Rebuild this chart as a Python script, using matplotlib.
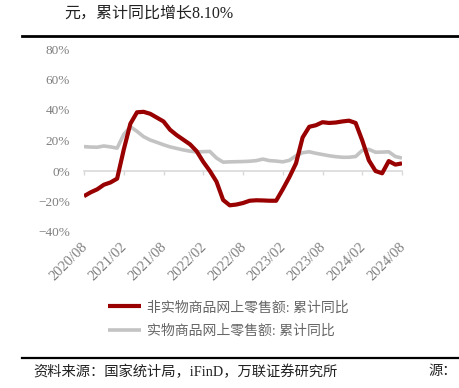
import numpy as np
import matplotlib.pyplot as plt
from matplotlib.lines import Line2D

plt.rcParams['font.family'] = ['Liberation Serif', 'Noto Sans CJK SC', 'DejaVu Sans']

# 2020/08 .. 2024/08, monthly, cumulative yoy (%)
months = ["2020/08", "2020/09", "2020/10", "2020/11", "2020/12",
          "2021/01", "2021/02", "2021/03", "2021/04", "2021/05", "2021/06", "2021/07",
          "2021/08", "2021/09", "2021/10", "2021/11", "2021/12",
          "2022/01", "2022/02", "2022/03", "2022/04", "2022/05", "2022/06", "2022/07",
          "2022/08", "2022/09", "2022/10", "2022/11", "2022/12",
          "2023/01", "2023/02", "2023/03", "2023/04", "2023/05", "2023/06", "2023/07",
          "2023/08", "2023/09", "2023/10", "2023/11", "2023/12",
          "2024/01", "2024/02", "2024/03", "2024/04", "2024/05", "2024/06", "2024/07",
          "2024/08"]
non_physical = [-16.5, -14, -12, -9, -7.5,
                -5, 14, 31, 38.5, 38.8, 37.5, 35,
                32.5, 27, 23.5, 20.5, 17.5,
                13, 6, 0, -7, -19, -22.5, -22,
                -21, -19.5, -19.2, -19.3, -19.5,
                -19.5, -12, -4, 5, 22, 29, 30,
                32, 31.5, 31.8, 32.5, 33,
                31.5, 20, 7, 0, -1.5, 6.5, 4.2,
                5]
physical = [16, 15.7, 15.6, 16.4, 15.8,
            15, 24, 29, 26, 22.5, 20.3, 18.8,
            17.2, 15.8, 14.8, 13.8, 13,
            12.5, 12.7, 12.8, 8.5, 5.8, 6, 6.1,
            6.2, 6.4, 6.8, 7.8, 6.8,
            6.5, 6, 7, 10, 12, 12.6, 11.6,
            10.8, 10, 9.4, 9, 9,
            9.5, 13.5, 14.2, 12.3, 12.4, 12.6, 9.5,
            8.5]
tick_labels = ["2020/08", "2021/02", "2021/08", "2022/02", "2022/08",
               "2023/02", "2023/08", "2024/02", "2024/08"]
legend_labels = ["非实物商品网上零售额: 累计同比", "实物商品网上零售额: 累计同比"]

W, H = 460, 388
fig = plt.figure(figsize=(W / 100, H / 100), dpi=100)
ax = fig.add_axes([84 / W, 1 - 232 / H, 318 / W, 183 / H])

x = np.arange(len(months))
red = "#990000"
grey = "#c3c3c3"
ax.plot(x, physical, color=grey, lw=2.6, solid_capstyle='butt', zorder=3)
ax.plot(x, non_physical, color=red, lw=3.0, solid_capstyle='butt', zorder=4)

ax.set_xlim(0, len(months) - 1)
ax.set_ylim(-40, 80)
ax.set_yticks(np.arange(-40, 81, 20))
ax.set_yticklabels([f"{v}%".replace("-", "\u2212") for v in range(-40, 81, 20)])
ax.tick_params(axis='y', length=0, pad=10, labelsize=9.5, labelcolor="#7f7f7f")

for s in ["top", "right", "left"]:
    ax.spines[s].set_visible(False)
ax.spines["bottom"].set_position(("data", 0))
ax.spines["bottom"].set_color("#d9d9d9")
ax.spines["bottom"].set_linewidth(1.2)

tick_pos = [months.index(t) for t in tick_labels]
ax.set_xticks(tick_pos)
ax.set_xticklabels([])
ax.tick_params(axis='x', length=3, width=1.0, color="#d9d9d9", direction='out')

# date labels sit under the bottom of the plot, not at the zero line
for p, t in zip(tick_pos, tick_labels):
    ax.text(p + 0.2, -48.5, t, transform=ax.transData, rotation=45,
            rotation_mode='anchor', ha='right', va='center',
            fontsize=10.5, color="#7f7f7f", clip_on=False)

handles = [Line2D([], [], color=red, lw=3.0, solid_capstyle='butt'),
           Line2D([], [], color=grey, lw=2.6, solid_capstyle='butt')]
fig.legend(handles, legend_labels, loc='upper left',
           bbox_to_anchor=(108 / W, 1 - 301 / H), frameon=False,
           fontsize=10, labelcolor="#666666", handlelength=2.4,
           handletextpad=0.4, labelspacing=0.75, borderpad=0, borderaxespad=0)

# header / footer of the report page
fig.text(64 / W, 1 - 14 / H, "元，累计同比增长8.10%", fontsize=11.5,
         color="#222222", va='center', ha='left')
fig.add_artist(Line2D([22 / W, 1], [1 - 36 / H, 1 - 36 / H], color="black", lw=2.0))
fig.add_artist(Line2D([22 / W, 1], [1 - 358 / H, 1 - 358 / H], color="black", lw=1.6))
fig.text(33 / W, 1 - 372 / H, "资料来源：国家统计局，iFinD，万联证券研究所",
         fontsize=10.3, color="#222222", va='center', ha='left')
fig.text(457 / W, 1 - 372 / H, "源：", fontsize=10.3, color="#222222",
         va='center', ha='right')

fig.savefig("out.png", dpi=100)
